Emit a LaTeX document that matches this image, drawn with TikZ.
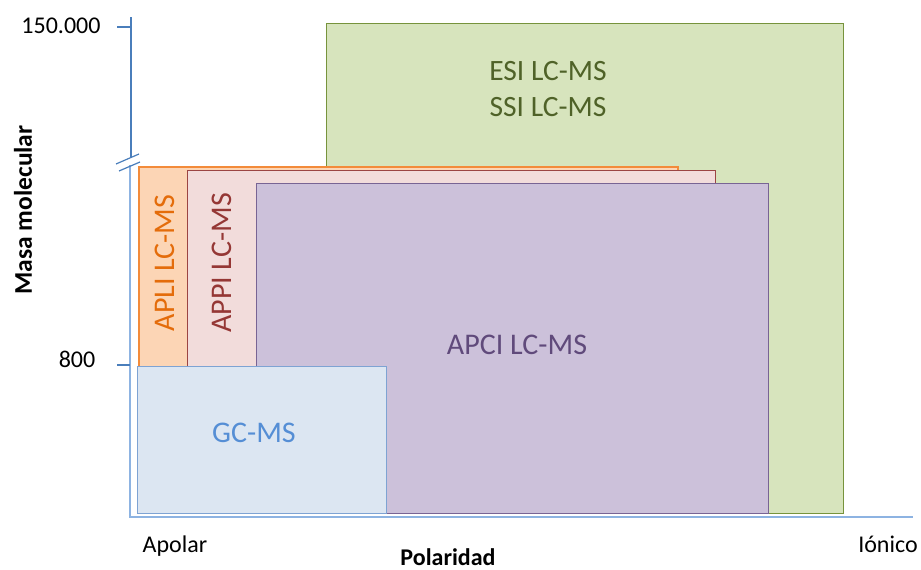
\documentclass[tikz,border=0pt]{standalone}
\usepackage{fontspec}
\setmainfont{Carlito}
\definecolor{greenF}{HTML}{D7E4BD}
\definecolor{greenD}{HTML}{77933C}
\definecolor{greenT}{HTML}{4F6228}
\definecolor{orangeF}{HTML}{FCD5B5}
\definecolor{orangeD}{HTML}{F38B3A}
\definecolor{orangeT}{HTML}{E46C0A}
\definecolor{pinkF}{HTML}{F2DCDB}
\definecolor{pinkD}{HTML}{9B4543}
\definecolor{pinkT}{HTML}{953735}
\definecolor{purpleF}{HTML}{CCC1DA}
\definecolor{purpleD}{HTML}{786494}
\definecolor{purpleT}{HTML}{604A7B}
\definecolor{gcF}{HTML}{DCE6F2}
\definecolor{gcD}{HTML}{7EA3D3}
\definecolor{gcT}{HTML}{558ED5}
\definecolor{axDark}{HTML}{4A7EBB}
\definecolor{axLight}{HTML}{8DB3E2}
\begin{document}
\begin{tikzpicture}[x=1pt,y=-1pt,
  box/.style={draw, line width=1pt, inner sep=0pt, anchor=north west},
  lbl/.style={inner sep=0pt, font=\fontsize{30}{36}\selectfont},
  axlbl/.style={inner sep=0pt, anchor=base, font=\fontsize{24}{29}\selectfont},
  axtitle/.style={inner sep=0pt, anchor=base, font=\fontsize{24}{29}\selectfont\bfseries},
  axline/.style={line width=1.5pt}]
\useasboundingbox (0,0) rectangle (921,570);

% boxes
\node[box, fill=greenF, draw=greenD, minimum width=517pt, minimum height=490pt] (esi) at (326,23) {};
\node[box, fill=orangeF, draw=orangeD, line width=1.5pt, minimum width=539pt, minimum height=345pt] (apli) at (138,166) {};
\node[box, fill=pinkF, draw=pinkD, line width=1.3pt, minimum width=528pt, minimum height=341pt] (appi) at (187,170) {};
\node[box, fill=purpleF, draw=purpleD, line width=1.3pt, minimum width=512pt, minimum height=330pt] (apci) at (256,183) {};
\node[box, fill=gcF, draw=gcD, minimum width=249pt, minimum height=147pt] (gc) at (137,366) {};

% box labels
\node[lbl, text=greenT, align=center, font=\fontsize{29.5}{36}\selectfont] (esit) at (548,89) {ESI LC-MS\\SSI LC-MS};
\node[lbl, text=purpleT] (apcit) at (517,345) {APCI LC-MS};
\node[lbl, text=orangeT, rotate=90] (aplit) at (165,263) {APLI LC-MS};
\node[lbl, text=pinkT, rotate=90] (appit) at (222,263) {APPI LC-MS};
\node[lbl, text=gcT] (gct) at (254,433) {GC-MS};

% axes
\coordinate (ytop) at (131,17);
\coordinate (ybrk1) at (131,157);
\coordinate (ybrk2) at (130,165);
\coordinate (orig) at (130,517);
\coordinate (xend) at (913,517);
\draw[axline, axDark] (ytop) -- (ybrk1);
\draw[axline, axLight] (ybrk2) -- (orig) -- (xend);
\coordinate (b1a) at (116,164); \coordinate (b1b) at (139,154);
\coordinate (b2a) at (119,171); \coordinate (b2b) at (140,162);
\draw[line width=1.2pt, axDark] (b1a) -- (b1b);
\draw[line width=1.2pt, axDark] (b2a) -- (b2b);
\coordinate (t1a) at (117,27); \coordinate (t1b) at (131,27);
\coordinate (t2a) at (117,365); \coordinate (t2b) at (130,365);
\draw[axline, axDark] (t1a) -- (t1b);
\draw[axline, axDark] (t2a) -- (t2b);

% axis labels
\node[axlbl] (l150) at (61,34) {150.000};
\node[axlbl] (l800) at (77,367) {800};
\node[axlbl] (lapo) at (175,552) {Apolar};
\node[axlbl] (lion) at (888,552) {Iónico};
\node[axtitle] (lpol) at (448,565) {Polaridad};
\node[axtitle, rotate=90, anchor=center, font=\fontsize{25.5}{30}\selectfont\bfseries] (lmasa) at (23,210) {Masa molecular};
\end{tikzpicture}
\end{document}
